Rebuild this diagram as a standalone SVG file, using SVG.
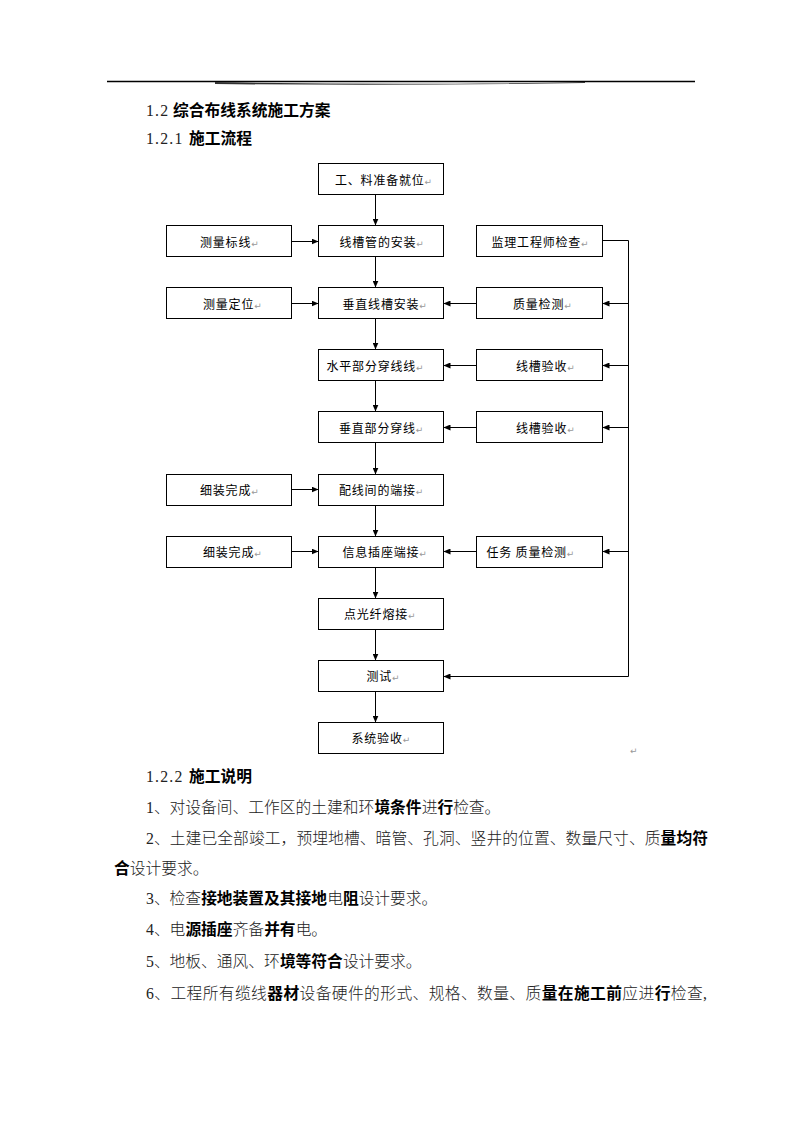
<svg xmlns="http://www.w3.org/2000/svg" width="793" height="1122" viewBox="0 0 793 1122">
<style>
.bx{fill:#fff;stroke:#000;stroke-width:1}
.lb{font-family:"Noto Sans CJK SC",sans-serif;font-size:12px;letter-spacing:0.8px;fill:#000}
.pm{fill:#999;font-family:"DejaVu Sans",sans-serif;font-size:9px;letter-spacing:0}
.cn{stroke:#000;stroke-width:1;fill:none}
.s{font-family:"Liberation Serif","Noto Sans CJK SC",serif;font-weight:300;fill:#222}
.b{font-family:"Noto Sans CJK SC",sans-serif;font-weight:700;fill:#000}
.n{letter-spacing:1.2px}
.tx{font-size:15.75px}
</style>
<defs>
<marker id="ah" markerWidth="7" markerHeight="6" refX="7" refY="3" orient="auto" markerUnits="userSpaceOnUse"><path d="M0,0 L7,3 L0,6 z" fill="#000"/></marker>
</defs>
<rect width="793" height="1122" fill="#fff"/>
<g id="header-rule">
<line x1="107" y1="81.5" x2="695" y2="81.5" stroke="#000" stroke-width="1.6"/>
<path d="M215,82 Q400,85.5 585,82 L585,83 Q400,86 215,84 Z" fill="#333"/>
</g>
<g id="headings" class="tx">
<text x="146" y="116"><tspan class="s n">1.2</tspan><tspan class="b" x="173" font-weight="500">综合布线系统施工方案</tspan></text>
<text x="146" y="144"><tspan class="s n">1.2.1</tspan><tspan class="b" x="189" font-weight="500">施工流程</tspan></text>
</g>
<g id="connectors">
<line class="cn" x1="375.5" y1="194.5" x2="375.5" y2="225.5" marker-end="url(#ah)"/>
<line class="cn" x1="375.5" y1="256.5" x2="375.5" y2="287.5" marker-end="url(#ah)"/>
<line class="cn" x1="375.5" y1="318.5" x2="375.5" y2="349.5" marker-end="url(#ah)"/>
<line class="cn" x1="375.5" y1="380.5" x2="375.5" y2="411.5" marker-end="url(#ah)"/>
<line class="cn" x1="375.5" y1="442.5" x2="375.5" y2="474.5" marker-end="url(#ah)"/>
<line class="cn" x1="375.5" y1="505.5" x2="375.5" y2="536.5" marker-end="url(#ah)"/>
<line class="cn" x1="375.5" y1="567.5" x2="375.5" y2="598.5" marker-end="url(#ah)"/>
<line class="cn" x1="375.5" y1="629.5" x2="375.5" y2="660.5" marker-end="url(#ah)"/>
<line class="cn" x1="375.5" y1="691.5" x2="375.5" y2="722.5" marker-end="url(#ah)"/>
<line class="cn" x1="291.5" y1="241.5" x2="318.5" y2="241.5" marker-end="url(#ah)"/>
<line class="cn" x1="291.5" y1="303.5" x2="318.5" y2="303.5" marker-end="url(#ah)"/>
<line class="cn" x1="291.5" y1="489.5" x2="318.5" y2="489.5" marker-end="url(#ah)"/>
<line class="cn" x1="291.5" y1="551.5" x2="318.5" y2="551.5" marker-end="url(#ah)"/>
<line class="cn" x1="476.5" y1="303.5" x2="443.5" y2="303.5" marker-end="url(#ah)"/>
<line class="cn" x1="476.5" y1="365.5" x2="443.5" y2="365.5" marker-end="url(#ah)"/>
<line class="cn" x1="476.5" y1="427.5" x2="443.5" y2="427.5" marker-end="url(#ah)"/>
<line class="cn" x1="476.5" y1="551.5" x2="443.5" y2="551.5" marker-end="url(#ah)"/>
<polyline class="cn" points="602.5,240.5 628.5,240.5 628.5,676.5"/>
<line class="cn" x1="628.5" y1="303.5" x2="602.5" y2="303.5" marker-end="url(#ah)"/>
<line class="cn" x1="628.5" y1="365.5" x2="602.5" y2="365.5" marker-end="url(#ah)"/>
<line class="cn" x1="628.5" y1="427.5" x2="602.5" y2="427.5" marker-end="url(#ah)"/>
<line class="cn" x1="628.5" y1="551.5" x2="602.5" y2="551.5" marker-end="url(#ah)"/>
<line class="cn" x1="628.5" y1="676.5" x2="443.5" y2="676.5" marker-end="url(#ah)"/>
</g>
<g id="n1"><rect class="bx" x="318.5" y="163.5" width="125" height="31"/><text class="lb" x="335" y="184.5">工、料准备就位<tspan class="pm">↵</tspan></text></g>
<g id="n2"><rect class="bx" x="318.5" y="225.5" width="125" height="31"/><text class="lb" x="339.5" y="246.5">线槽管的安装<tspan class="pm">↵</tspan></text></g>
<g id="n3"><rect class="bx" x="318.5" y="287.5" width="125" height="31"/><text class="lb" x="342.5" y="308.5">垂直线槽安装<tspan class="pm">↵</tspan></text></g>
<g id="n4"><rect class="bx" x="318.5" y="349.5" width="125" height="31"/><text class="lb" x="326.5" y="370.5">水平部分穿线线<tspan class="pm">↵</tspan></text></g>
<g id="n5"><rect class="bx" x="318.5" y="411.5" width="125" height="31"/><text class="lb" x="339" y="432.5">垂直部分穿线<tspan class="pm">↵</tspan></text></g>
<g id="n6"><rect class="bx" x="318.5" y="474.5" width="125" height="31"/><text class="lb" x="339" y="495">配线间的端接<tspan class="pm">↵</tspan></text></g>
<g id="n7"><rect class="bx" x="318.5" y="536.5" width="125" height="31"/><text class="lb" x="342.5" y="557">信息插座端接<tspan class="pm">↵</tspan></text></g>
<g id="n8"><rect class="bx" x="318.5" y="598.5" width="125" height="31"/><text class="lb" x="344" y="619">点光纤熔接<tspan class="pm">↵</tspan></text></g>
<g id="n9"><rect class="bx" x="318.5" y="660.5" width="125" height="31"/><text class="lb" x="366.5" y="681">测试<tspan class="pm">↵</tspan></text></g>
<g id="n10"><rect class="bx" x="318.5" y="722.5" width="125" height="31"/><text class="lb" x="351.5" y="743">系统验收<tspan class="pm">↵</tspan></text></g>
<g id="l2"><rect class="bx" x="166.5" y="225.5" width="125" height="31"/><text class="lb" x="200" y="246.5">测量标线<tspan class="pm">↵</tspan></text></g>
<g id="l3"><rect class="bx" x="166.5" y="287.5" width="125" height="31"/><text class="lb" x="203" y="308.5">测量定位<tspan class="pm">↵</tspan></text></g>
<g id="l6"><rect class="bx" x="166.5" y="474.5" width="125" height="31"/><text class="lb" x="200" y="495">细装完成<tspan class="pm">↵</tspan></text></g>
<g id="l7"><rect class="bx" x="166.5" y="536.5" width="125" height="31"/><text class="lb" x="203" y="557">细装完成<tspan class="pm">↵</tspan></text></g>
<g id="r2"><rect class="bx" x="476.5" y="225.5" width="126" height="31"/><text class="lb" x="491.5" y="246.5">监理工程师检查<tspan class="pm">↵</tspan></text></g>
<g id="r3"><rect class="bx" x="476.5" y="287.5" width="126" height="31"/><text class="lb" x="513" y="308.5">质量检测<tspan class="pm">↵</tspan></text></g>
<g id="r4"><rect class="bx" x="476.5" y="349.5" width="126" height="31"/><text class="lb" x="516" y="370.5">线槽验收<tspan class="pm">↵</tspan></text></g>
<g id="r5"><rect class="bx" x="476.5" y="411.5" width="126" height="31"/><text class="lb" x="516" y="432.5">线槽验收<tspan class="pm">↵</tspan></text></g>
<g id="r7"><rect class="bx" x="476.5" y="536.5" width="126" height="31"/><text class="lb" x="486.5" y="557">任务 质量检测<tspan class="pm">↵</tspan></text></g>
<text class="pm" x="630" y="754">↵</text>
<g id="body" class="tx">
<text x="146" y="782"><tspan class="s n">1.2.2</tspan><tspan class="b" x="189" font-weight="500">施工说明</tspan></text>
<text x="146" y="813"><tspan class="s">1、对设备间、工作区的土建和环</tspan><tspan class="b">境条件</tspan><tspan class="s">进</tspan><tspan class="b">行</tspan><tspan class="s">检查。</tspan></text>
<text x="146" y="844" textLength="562" lengthAdjust="spacing"><tspan class="s">2、土建已全部竣工，预埋地槽、暗管、孔洞、竖井的位置、数量尺寸、质</tspan><tspan class="b">量均符</tspan></text>
<text x="114" y="874"><tspan class="b">合</tspan><tspan class="s">设计要求。</tspan></text>
<text x="146" y="904"><tspan class="s">3、检查</tspan><tspan class="b">接地装置及其接地</tspan><tspan class="s">电</tspan><tspan class="b">阻</tspan><tspan class="s">设计要求。</tspan></text>
<text x="146" y="935"><tspan class="s">4、电</tspan><tspan class="b">源插座</tspan><tspan class="s">齐备</tspan><tspan class="b">并有</tspan><tspan class="s">电。</tspan></text>
<text x="146" y="967"><tspan class="s">5、地板、通风、环</tspan><tspan class="b">境等符合</tspan><tspan class="s">设计要求。</tspan></text>
<text x="146" y="999" textLength="561" lengthAdjust="spacing"><tspan class="s">6、工程所有缆线</tspan><tspan class="b">器材</tspan><tspan class="s">设备硬件的形式、规格、数量、质</tspan><tspan class="b">量在施工前</tspan><tspan class="s">应进</tspan><tspan class="b">行</tspan><tspan class="s">检查,</tspan></text>
</g>
</svg>
